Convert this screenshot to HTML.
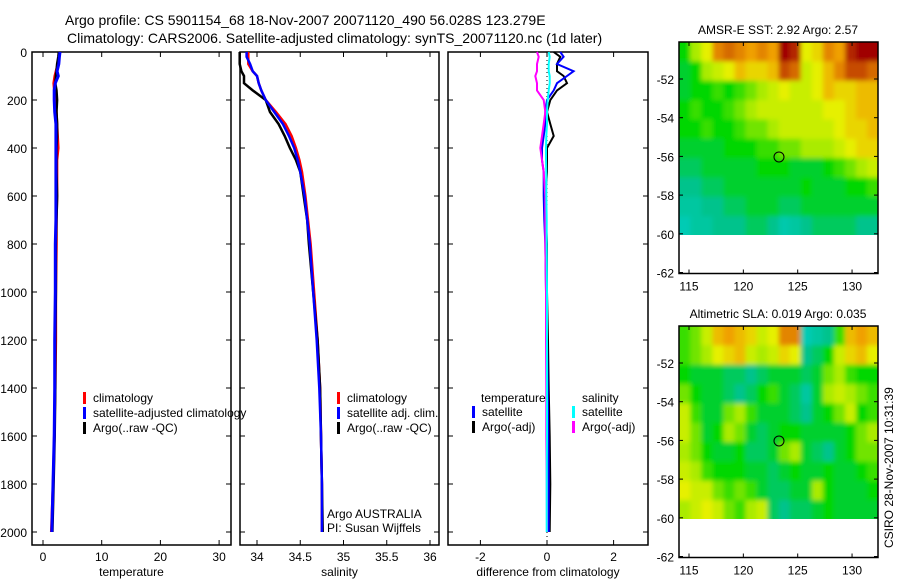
<!DOCTYPE html>
<html><head><meta charset="utf-8"><style>
body{margin:0;background:#fff;}
svg{display:block;font-family:"Liberation Sans",sans-serif;}
</style></head><body>
<svg id="fig" width="900" height="580" viewBox="0 0 900 580">
<defs>
<filter id="blur" x="-5%" y="-5%" width="110%" height="110%"><feGaussianBlur stdDeviation="2.5"/></filter>
<clipPath id="clipA"><rect x="679" y="42" width="199" height="193"/></clipPath>
<clipPath id="clipB"><rect x="679" y="326" width="199" height="193"/></clipPath>
</defs>
<text x="65" y="25" font-size="14">Argo profile: CS 5901154_68 18-Nov-2007 20071120_490 56.028S 123.279E</text>
<text x="67" y="43" font-size="14">Climatology: CARS2006. Satellite-adjusted climatology: synTS_20071120.nc (1d later)</text>
<g id="g"></g>
</svg>
<script>
// ---- profile data ----
const depths = [0,20,50,80,100,130,160,200,250,300,350,400,450,500,600,700,800,1000,1200,1400,1600,1800,2000];
const tempClim = [2.8,2.7,2.5,2.2,2.0,1.8,1.9,2.1,2.3,2.4,2.5,2.6,2.4,2.4,2.4,2.3,2.3,2.2,2.2,2.1,1.9,1.7,1.4];
const tempSat  = [2.9,2.8,2.7,2.4,2.6,2.1,1.9,1.9,2.0,2.2,2.2,2.2,2.2,2.2,2.2,2.2,2.1,2.1,2.0,2.0,1.9,1.7,1.5];
const tempArgo = [2.7,2.6,2.4,2.3,2.2,2.1,2.3,2.4,2.3,2.4,2.4,2.3,2.3,2.3,2.4,2.3,2.2,2.2,2.1,2.1,2.0,1.8,1.6];
const salClim = [33.9,33.9,33.9,33.95,34.0,34.02,34.05,34.1,34.22,34.33,34.4,34.45,34.49,34.52,34.56,34.59,34.62,34.66,34.7,34.73,34.74,34.75,34.75];
const salSat  = [33.88,33.88,33.92,33.95,34.0,34.02,34.05,34.1,34.2,34.3,34.37,34.43,34.47,34.5,34.55,34.58,34.61,34.65,34.69,34.72,34.74,34.75,34.75];
const salArgo = [33.8,33.8,33.8,33.82,33.85,33.85,33.95,34.1,34.15,34.25,34.32,34.38,34.45,34.5,34.54,34.58,34.6,34.65,34.7,34.73,34.74,34.75,34.76];
const dTempSat  = [0.4,0.5,0.3,0.8,0.6,0.3,0.2,0.0,-0.05,-0.05,-0.1,-0.15,-0.15,-0.1,-0.1,-0.08,-0.05,-0.03,0.0,0.02,0.04,0.05,0.05];
const dTempArgo = [0.2,0.4,0.3,0.3,0.5,0.6,0.3,0.1,0.0,0.1,0.2,0.0,0.0,0.0,-0.05,-0.03,0.0,0.0,0.03,0.05,0.08,0.1,0.08];
const dSalSat   = [0.05,0.08,0.05,0.05,0.08,0.08,0.05,0.02,0.0,0.0,-0.02,-0.03,-0.03,-0.02,-0.02,-0.01,-0.01,0.0,0.0,0.0,0.0,-0.01,-0.01];
const dSalArgo  = [-0.3,-0.25,-0.3,-0.3,-0.35,-0.3,-0.3,-0.1,-0.05,-0.1,-0.15,-0.2,-0.15,-0.1,-0.05,-0.05,-0.05,-0.03,-0.03,-0.02,-0.02,-0.01,0.0];
const depthTicks = [0,200,400,600,800,1000,1200,1400,1600,1800,2000];
const tempTicks = [0,10,20,30];
const salTicks = [34,34.5,35,35.5,36];
const diffTicks = [-2,0,2];
// ---- map data (rows -50.6 .. -59.6, cols 114.6 .. 131.9), normalized colour index ----
const sstGrid = [
[.35,.5,.6,.8,.85,.8,.75,.8,.75,1,.95,.6,.65,.8,.75,.95,1,1],
[.3,.35,.5,.55,.6,.7,.65,.65,.7,.9,.85,.55,.6,.7,.8,.9,.9,.85],
[.3,.35,.35,.4,.35,.4,.45,.5,.55,.6,.55,.55,.6,.7,.65,.65,.7,.7],
[.35,.4,.35,.35,.4,.45,.5,.55,.55,.55,.55,.55,.55,.6,.6,.65,.7,.7],
[.35,.35,.4,.35,.35,.4,.45,.45,.5,.55,.55,.55,.55,.55,.6,.65,.65,.7],
[.3,.3,.3,.3,.35,.35,.35,.4,.4,.45,.45,.5,.5,.5,.55,.6,.65,.65],
[.25,.25,.3,.3,.3,.3,.3,.35,.35,.35,.3,.3,.3,.35,.4,.45,.5,.55],
[.2,.2,.25,.25,.3,.3,.3,.3,.3,.3,.3,.35,.3,.3,.3,.35,.35,.4],
[.15,.15,.2,.2,.25,.25,.3,.3,.3,.25,.25,.3,.3,.3,.3,.3,.3,.3],
[.1,.15,.15,.2,.2,.2,.25,.25,.2,.12,.15,.2,.25,.25,.25,.25,.2,.2]];
const slaGrid = [
[.4,.45,.55,.7,.75,.7,.65,.55,.6,.8,.8,.1,.15,.2,.4,.7,.75,.7],
[.4,.45,.5,.6,.65,.7,.55,.5,.55,.65,.6,.2,.25,.35,.55,.65,.7,.6],
[.35,.3,.3,.3,.25,.25,.2,.25,.3,.3,.3,.25,.3,.45,.5,.4,.35,.35],
[.45,.35,.3,.3,.25,.2,.25,.35,.4,.3,.25,.15,.3,.5,.55,.5,.45,.4],
[.55,.4,.3,.3,.45,.5,.4,.3,.3,.3,.25,.2,.3,.35,.45,.55,.35,.4],
[.55,.45,.3,.35,.5,.45,.3,.25,.3,.35,.35,.3,.3,.3,.3,.35,.45,.5],
[.5,.45,.35,.3,.3,.35,.25,.25,.3,.45,.5,.3,.25,.2,.3,.35,.45,.45],
[.55,.5,.4,.35,.35,.35,.3,.3,.25,.3,.35,.3,.3,.35,.3,.3,.35,.4],
[.6,.55,.55,.45,.4,.45,.4,.3,.25,.25,.3,.3,.5,.35,.3,.3,.3,.35],
[.5,.55,.6,.55,.45,.4,.5,.55,.25,.2,.25,.25,.3,.35,.3,.3,.3,.3]];
const lonTicks = [115,120,125,130];
const latTicks = [-52,-54,-56,-58,-60,-62];
const argoLon = 123.279, argoLat = -56.028;

const NS="http://www.w3.org/2000/svg";
const G=document.getElementById('g');
function el(t,a,p){const e=document.createElementNS(NS,t);for(const k in a)e.setAttribute(k,a[k]);(p||G).appendChild(e);return e;}
const yD=d=>52+d*0.24;
function panel(x0,x1,name,ticks,xs,xlabel,ylabels){
  const g=el('g',{});
  
  
  const r=el('rect',{x:x0,y:52,width:x1-x0,height:493,fill:'none',stroke:'#000','stroke-width':1.5},g);
  
  
  depthTicks.forEach(d=>{el('line',{x1:x0,x2:x0+5,y1:yD(d),y2:yD(d),stroke:'#000'},g);el('line',{x1:x1,x2:x1-5,y1:yD(d),y2:yD(d),stroke:'#000'},g);
    if(ylabels){const t=el('text',{x:x0-5,y:yD(d)+5,'font-size':12,'text-anchor':'end'},g);t.textContent=d;
      
      }});
  ticks.forEach(v=>{const x=xs(v);el('line',{x1:x,x2:x,y1:545,y2:540,stroke:'#000'},g);el('line',{x1:x,x2:x,y1:52,y2:57,stroke:'#000'},g);
    const t=el('text',{x:x,y:561,'font-size':12,'text-anchor':'middle'},g);t.textContent=v;
    
    });
  const t=el('text',{x:(x0+x1)/2,y:576,'font-size':12,'text-anchor':'middle'},g);t.textContent=xlabel;
  
  
  return g;
}
function line(g,vals,xs,color,name,w){
  const pts=vals.map((v,i)=>xs(v).toFixed(1)+','+yD(depths[i]).toFixed(1)).join(' ');
  const p=el('polyline',{points:pts,fill:'none',stroke:color,'stroke-width':w||2.5},g);
  
  
}
function legend(g,x,y,items){
  items.forEach((it,i)=>{el('rect',{x:x,y:y+i*15-10,width:3,height:12,fill:it[1]},g);
    const t=el('text',{x:x+10,y:y+i*15,'font-size':12},g);t.textContent=it[0];
    
    });
}
// temperature
const xT=v=>43+v*5.87;
let g1=panel(32,231,'temperature-panel',tempTicks,xT,'temperature',true);
line(g1,tempClim,xT,'#f00','temp-climatology-line');
line(g1,tempArgo,xT,'#000','temp-argo-line');
line(g1,tempSat,xT,'#00f','temp-satellite-line',3);
legend(g1,83,402,[['climatology','#f00'],['satellite-adjusted climatology','#00f'],['Argo(..raw -QC)','#000']]);
// salinity
const xS=v=>257+(v-34)*86.5;
let g2=panel(240,439,'salinity-panel',salTicks,xS,'salinity',false);
line(g2,salClim,xS,'#f00','sal-climatology-line');
line(g2,salArgo,xS,'#000','sal-argo-line');
line(g2,salSat,xS,'#00f','sal-satellite-line');
legend(g2,337,402,[['climatology','#f00'],['satellite adj. clim.','#00f'],['Argo(..raw -QC)','#000']]);
let a1=el('text',{x:327,y:518,'font-size':12},g2);a1.textContent='Argo AUSTRALIA';


let a2=el('text',{x:327,y:532,'font-size':12},g2);a2.textContent='PI: Susan Wijffels';


// difference
const xDf=v=>547+v*33.3;
let g3=panel(448,648,'difference-panel',diffTicks,xDf,'difference from climatology',false);
el('line',{x1:xDf(0),x2:xDf(0),y1:52,y2:545,stroke:'#000','stroke-dasharray':'1,3'},g3);
line(g3,dTempArgo,xDf,'#000','diff-temp-argo-line',2);
line(g3,dTempSat,xDf,'#00f','diff-temp-satellite-line',2);
line(g3,dSalArgo,xDf,'#f0f','diff-sal-argo-line',2);
line(g3,dSalSat,xDf,'#0ff','diff-sal-satellite-line',2);
let tt=el('text',{x:481,y:402,'font-size':12},g3);tt.textContent='temperature';


let ts=el('text',{x:582,y:402,'font-size':12},g3);ts.textContent='salinity';


legend(g3,472,416,[['satellite','#00f'],['Argo(-adj)','#000']]);
legend(g3,572,416,[['satellite','#0ff'],['Argo(-adj)','#f0f']]);
// colormap
const stops=[[0,[0,210,220]],[0.2,[0,195,140]],[0.35,[0,215,0]],[0.5,[170,235,0]],[0.6,[230,240,0]],[0.75,[240,160,0]],[0.88,[205,90,0]],[1,[160,0,0]]];
function cmap(v){for(let i=1;i<stops.length;i++){if(v<=stops[i][0]){const a=stops[i-1],b=stops[i],f=(v-a[0])/(b[0]-a[0]);return 'rgb('+a[1].map((c,k)=>Math.round(c+(b[1][k]-c)*f)).join(',')+')';}}return 'rgb(160,0,0)';}
function map(top,lat52,grid,title,name,clip){
  const pxDeg=19.35;
  const yL=l=>lat52+(-52-l)*pxDeg;
  const xL=l=>689+(l-115)*10.87;
  const g=el('g',{});
  
  
  const cg=el('g',{'clip-path':'url(#'+clip+')'},g);
  const bg=el('g',{filter:'url(#blur)'},cg);
  const lonMin=114.1,lonMax=132.4,nC=grid[0].length,dLon=(lonMax-lonMin)/nC;
  const latTop=-52+(lat52-top)/pxDeg;
  grid.forEach((row,r)=>row.forEach((v,c)=>{
    const la0=latTop-r;
    const x=xL(lonMin+c*dLon)-(c===0?6:0), w=dLon*10.87+0.6+(c===0?6:0)+(c===nC-1?6:0);
    const y=yL(la0)-(r===0?6:0), h=pxDeg+0.6+(r===0?6:0)+(r===grid.length-1?6:0);
    const cell=el('rect',{x:x.toFixed(1),y:y.toFixed(1),width:w.toFixed(1),height:h.toFixed(1),fill:cmap(v)},bg);
    
    
  }));
  const bottom=yL(-62)+1;
  const fr=el('rect',{x:679,y:top,width:199,height:bottom-top,fill:'none',stroke:'#000','stroke-width':1.5},g);
  
  
  lonTicks.forEach(l=>{const x=xL(l);el('line',{x1:x,x2:x,y1:bottom,y2:bottom-4,stroke:'#000'},g);el('line',{x1:x,x2:x,y1:top,y2:top+4,stroke:'#000'},g);
    const t=el('text',{x:x,y:bottom+17,'font-size':12,'text-anchor':'middle'},g);t.textContent=l;
    
    });
  latTicks.forEach(l=>{const y=yL(l);el('line',{x1:679,x2:683,y1:y,y2:y,stroke:'#000'},g);el('line',{x1:878,x2:874,y1:y,y2:y,stroke:'#000'},g);
    const t=el('text',{x:674,y:y+5,'font-size':12,'text-anchor':'end'},g);t.textContent=l;
    
    });
  const c=el('circle',{cx:xL(argoLon),cy:yL(argoLat),r:5,fill:'none',stroke:'#000'},g);
  
  
  const t=el('text',{x:778,y:top-8,'font-size':12,'text-anchor':'middle'},g);t.textContent=title;
  
  
}
map(42,79,sstGrid,'AMSR-E SST: 2.92 Argo: 2.57','sst-map','clipA');
map(326,363,slaGrid,'Altimetric SLA: 0.019 Argo: 0.035','sla-map','clipB');
const st=el('text',{x:0,y:0,'font-size':12,transform:'translate(893,548) rotate(-90)'});
st.textContent='CSIRO 28-Nov-2007 10:31:39';


</script>
</body></html>
